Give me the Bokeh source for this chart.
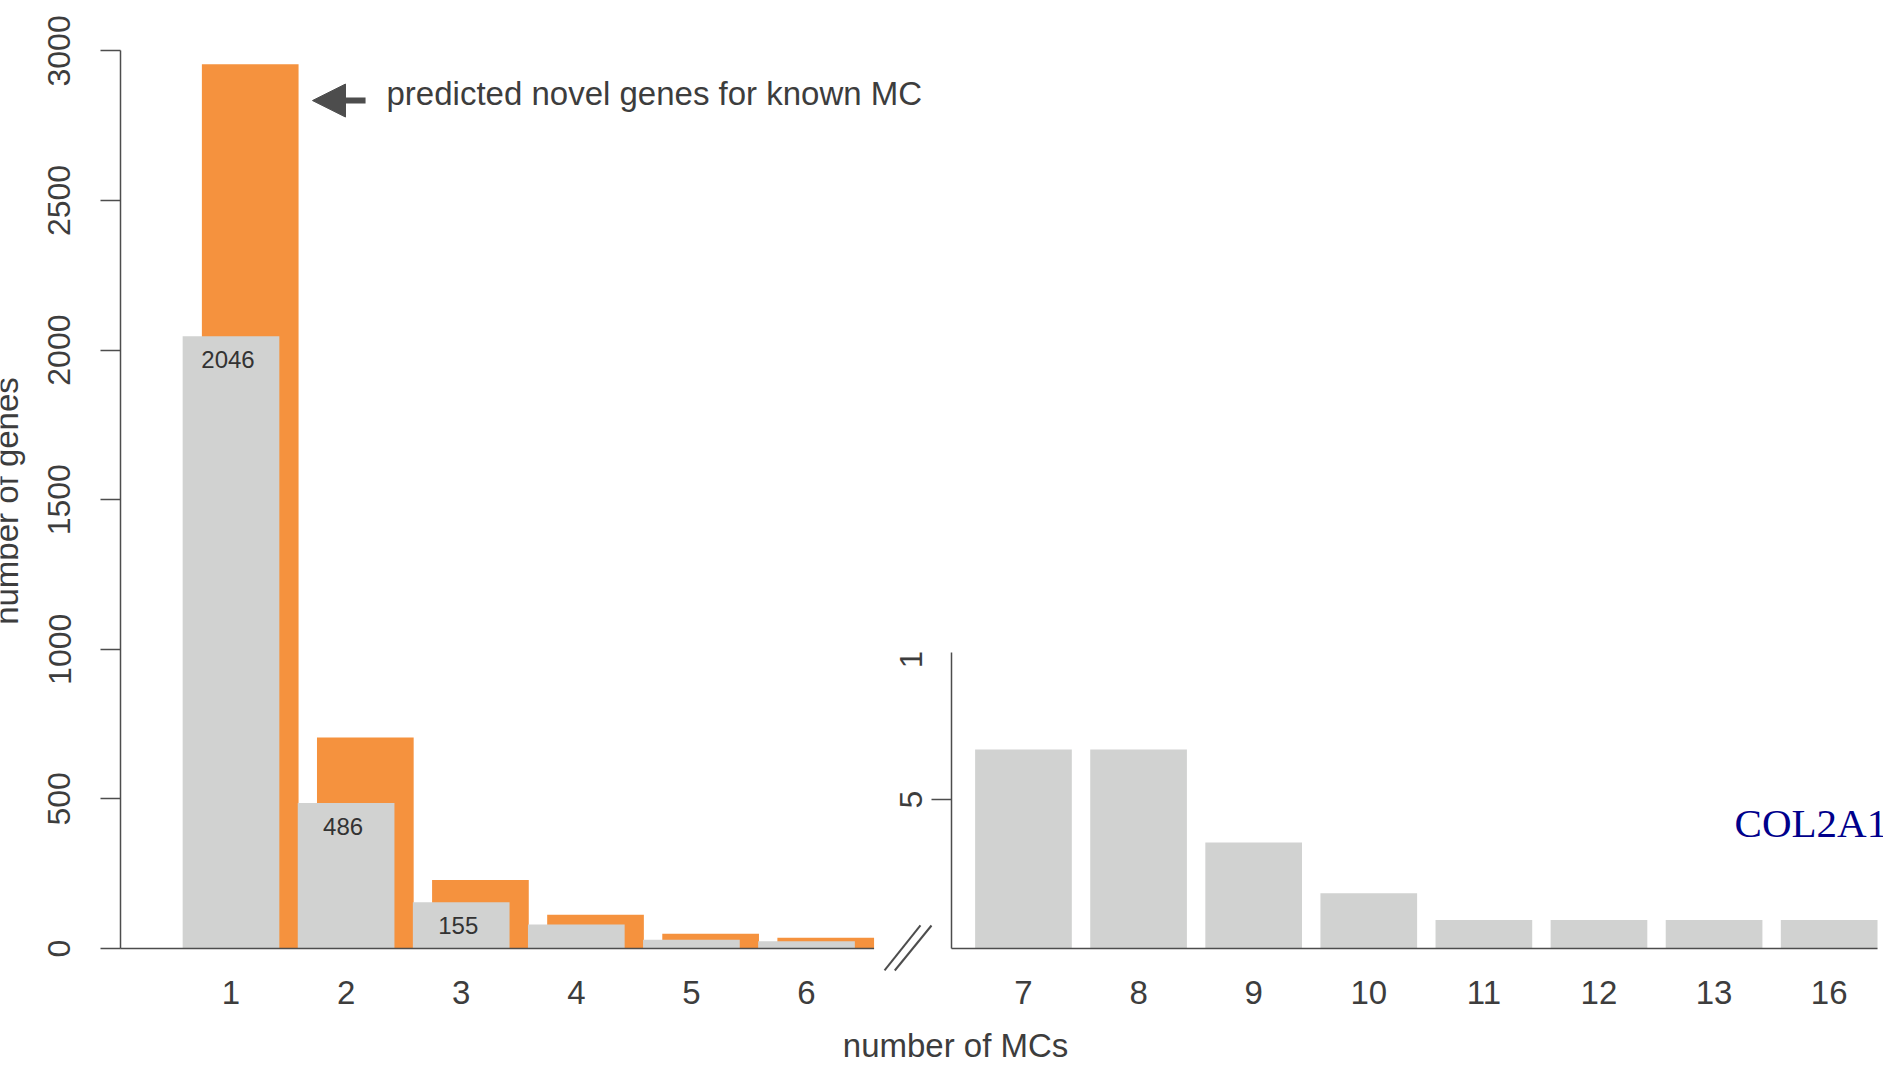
import math
from bokeh.plotting import figure
from bokeh.models import (Range1d, FixedTicker, Label, Arrow, NormalHead, ColumnDataSource,
                          LinearAxis, BoxAnnotation)
from bokeh.embed import file_html
from bokeh.resources import INLINE
from bokeh.core.properties import value

# ---------------- data ----------------
mc_left = ["1", "2", "3", "4", "5", "6"]
known_genes = [2046, 486, 155, 80, 29, 24]
predicted_genes = [2955, 705, 229, 113, 49, 36]
bar_labels = ["2046", "486", "155", "", "", ""]
mc_right = ["7", "8", "9", "10", "11", "12", "13", "16"]
known_genes_right = [6.68, 6.68, 3.56, 1.85, 0.96, 0.96, 0.96, 0.96]
y_ticks_left = [0, 500, 1000, 1500, 2000, 2500, 3000]
y_ticks_right = [5, 10]

# ---------------- style / layout constants ----------------
AXIS = "#4d4d4d"
TEXT = "#3d3d3d"
ORANGE = "#F5923E"
GRAY = "#D1D2D1"
FONT = "Liberation Sans"
HSIZE = "33px"
W = 0.84          # bar width (category units)
OFF = 0.167       # orange bar offset
GAP = 1.885       # gap between the two panels (broken axis)
X_LEFT_AXIS = 0.04
X_RIGHT_AXIS = 7.26

left_x = [i + 1 for i in range(len(mc_left))]
right_x = [len(mc_left) + GAP + j for j in range(len(mc_right))]

p = figure(width=1883, height=1067,
           x_range=Range1d(-1.0026, 15.357), y_range=Range1d(-397.7, 3168.4),
           output_backend="svg", toolbar_location=None,
           min_border_left=0, min_border_right=0, min_border_top=0, min_border_bottom=0,
           x_axis_location=None, y_axis_location=None)
p.extra_y_ranges = {"r": Range1d(-3.993, 31.81)}
p.xgrid.visible = False
p.ygrid.visible = False
p.outline_line_color = None
p.background_fill_color = "white"
p.border_fill_color = "white"

# ---------------- bars ----------------
p.vbar(x=[x + OFF for x in left_x], top=predicted_genes, width=W, fill_color=ORANGE, line_color=None)
p.vbar(x=left_x, top=known_genes, width=W, fill_color=GRAY, line_color=None)
p.vbar(x=right_x, top=known_genes_right, width=W, fill_color=GRAY, line_color=None, y_range_name="r")

src_lab = ColumnDataSource(dict(x=left_x, y=known_genes, t=bar_labels))
p.text(x="x", y="y", text="t", source=src_lab, text_align="center",
       text_baseline="middle", y_offset=23, x_offset=-3,
       text_font=value(FONT), text_font_size=value("24px"), text_color="#333333")

# baselines of both panels
p.segment(x0=[X_LEFT_AXIS, X_RIGHT_AXIS], x1=[left_x[-1] + OFF + W / 2, right_x[-1] + W / 2],
          y0=[0, 0], y1=[0, 0], line_color=AXIS, line_width=1.5)

# axis-break marks
p.segment(x0=[6.678, 6.767], y0=[-73.5, -73.5], x1=[6.990, 7.086], y1=[76.9, 76.9],
          line_color=AXIS, line_width=2)

# ---------------- axes ----------------
def style_y(ax, standoff):
    ax.major_tick_out = 20
    ax.major_tick_in = 0
    ax.minor_tick_out = 0
    ax.minor_tick_in = 0
    ax.major_label_orientation = "vertical"
    ax.major_label_standoff = standoff
    ax.major_label_text_font = FONT
    ax.major_label_text_font_size = "32px"
    ax.major_label_text_color = TEXT
    ax.axis_line_color = AXIS
    ax.axis_line_width = 1.5
    ax.major_tick_line_color = AXIS
    ax.major_tick_line_width = 1.5


yl = LinearAxis(ticker=FixedTicker(ticks=y_ticks_left), bounds=(0, 3000),
                fixed_location=X_LEFT_AXIS)
style_y(yl, 30)
p.add_layout(yl, "left")

yr = LinearAxis(y_range_name="r", ticker=FixedTicker(ticks=y_ticks_right), bounds=(0, 10),
                fixed_location=X_RIGHT_AXIS)
style_y(yr, 10)
p.add_layout(yr, "left")

all_x = left_x + right_x
all_lab = mc_left + mc_right
xa = LinearAxis(ticker=FixedTicker(ticks=all_x), fixed_location=0)
xa.major_label_overrides = {t: l for t, l in zip(all_x, all_lab)}
xa.axis_line_color = None
xa.major_tick_out = 0
xa.major_tick_in = 0
xa.minor_tick_out = 0
xa.minor_tick_in = 0
xa.major_label_standoff = 32
xa.major_label_text_font = FONT
xa.major_label_text_font_size = HSIZE
xa.major_label_text_color = TEXT
p.add_layout(xa, "below")

# the inset is cropped at its top edge, as in the original figure
p.add_layout(BoxAnnotation(left=6.686, right=7.295, bottom=9.933, top=11.7, y_range_name="r",
                           fill_color="white", fill_alpha=1.0, line_color=None))

# ---------------- texts ----------------
p.add_layout(Label(x=-0.952, y=1495.6, text="number of genes", angle=math.pi / 2,
                   text_align="center", text_baseline="middle",
                   text_font=FONT, text_font_size="33px", text_color=TEXT))
p.add_layout(Label(x=7.295, y=-323.5, text="number of MCs", text_align="center",
                   text_baseline="middle", text_font=FONT, text_font_size=HSIZE,
                   text_color=TEXT))
p.add_layout(Label(x=2.351, y=2856, text="predicted novel genes for known MC",
                   text_align="left", text_baseline="middle",
                   text_font=FONT, text_font_size=HSIZE, text_color=TEXT))
p.add_layout(Arrow(end=NormalHead(size=33, fill_color=AXIS, line_color=AXIS, line_width=1),
                   x_start=2.169, y_start=2834, x_end=1.708, y_end=2834,
                   line_color=AXIS, line_width=6))
p.add_layout(Label(x=14.063, y=4.205, y_range_name="r", text="COL2A1", text_align="left",
                   text_baseline="middle", text_font="Liberation Serif",
                   text_font_size="41px", text_color="#00008B"))

open("out.html", "w").write(file_html(p, INLINE))
